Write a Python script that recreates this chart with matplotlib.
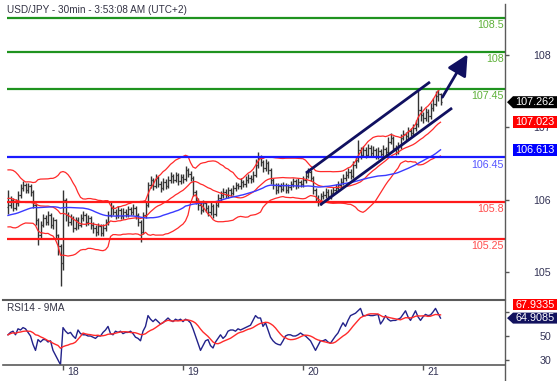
import numpy as np
import pandas as pd
import matplotlib
matplotlib.use("Agg")
import matplotlib.pyplot as plt
from matplotlib.patches import Polygon, FancyArrowPatch
from matplotlib.lines import Line2D

plt.rcParams['font.family'] = ['Liberation Sans', 'DejaVu Sans']

title = "USD/JPY - 30min - 3:53:08 AM (UTC+2)"
rsi_title = "RSI14 - 9MA"
first_bar_day = 17 + 13 / 24.0      # 17th, 13:00
bar_step = 1 / 48.0                 # 30 minutes

# closes before the visible window (only used for the indicators)
pre_close = [105.32, 105.30, 105.37, 105.34, 105.28, 105.25, 105.30, 105.36, 105.33, 105.39,
             105.42, 105.38, 105.35, 105.40, 105.44, 105.41, 105.47, 105.43, 105.39, 105.45,
             105.50, 105.47, 105.52, 105.49, 105.55, 105.52, 105.58, 105.62, 105.60, 105.66,
             105.80, 105.92, 106.05, 106.15, 106.22, 106.18, 106.10, 106.02, 105.95, 105.88,
             105.80, 105.72, 105.65, 105.60, 105.55, 105.58, 105.62, 105.68, 105.72]

close = [105.75, 105.82, 105.71, 105.78, 105.90, 106.00, 106.04, 105.97, 106.03, 105.94,
         105.75, 105.53, 105.31, 105.46, 105.56, 105.50, 105.60, 105.46, 105.53, 105.31,
         105.15, 104.90, 105.82, 105.60, 105.50, 105.56, 105.41, 105.53, 105.46, 105.56,
         105.60, 105.50, 105.56, 105.46, 105.41, 105.35, 105.44, 105.34, 105.41, 105.50,
         105.60, 105.71, 105.65, 105.60, 105.68, 105.59, 105.65, 105.62, 105.69, 105.65,
         105.71, 105.60, 105.50, 105.35, 105.60, 105.75, 106.04, 106.12, 106.03, 106.15,
         106.06, 106.00, 106.09, 106.03, 106.12, 106.18, 106.12, 106.19, 106.10, 106.16,
         106.13, 106.26, 106.21, 106.15, 105.94, 105.82, 105.75, 105.68, 105.78, 105.71,
         105.65, 105.74, 105.62, 105.75, 105.85, 105.90, 105.94, 105.90, 105.97, 105.93,
         106.00, 106.04, 106.03, 106.09, 106.06, 106.12, 106.15, 106.13, 106.19, 106.34,
         106.44, 106.38, 106.29, 106.37, 106.26, 106.12, 106.04, 105.97, 106.03, 105.99,
         106.04, 105.97, 106.01, 106.06, 106.10, 106.04, 106.09, 106.06, 106.12, 106.18,
         106.24, 106.15, 105.97, 105.85, 105.79, 105.88, 105.90, 105.94, 105.88, 105.93,
         105.97, 106.00, 106.04, 106.09, 106.15, 106.19, 106.24, 106.18, 106.34, 106.41,
         106.56, 106.49, 106.56, 106.49, 106.59, 106.51, 106.56, 106.47, 106.54, 106.50,
         106.57, 106.53, 106.68, 106.74, 106.59, 106.53, 106.62, 106.74, 106.79, 106.76,
         106.84, 106.81, 106.88, 106.94, 107.15, 107.07, 107.03, 107.12, 107.06, 107.18,
         107.24, 107.35, 107.38, 107.262]

high = [105.97, 105.88, 105.86, 105.84, 105.95, 106.06, 106.10, 106.08, 106.07, 106.06,
        105.97, 105.78, 105.56, 105.52, 105.62, 105.61, 105.66, 105.63, 105.58, 105.55,
        105.33, 105.18, 105.97, 105.85, 105.64, 105.62, 105.59, 105.58, 105.57, 105.62,
        105.66, 105.63, 105.61, 105.59, 105.50, 105.45, 105.49, 105.47, 105.47, 105.55,
        105.66, 105.79, 105.75, 105.69, 105.73, 105.71, 105.70, 105.69, 105.74, 105.72,
        105.77, 105.74, 105.63, 105.53, 105.64, 105.81, 106.09, 106.18, 106.15, 106.21,
        106.18, 106.10, 106.14, 106.13, 106.17, 106.23, 106.21, 106.24, 106.22, 106.21,
        106.20, 106.32, 106.30, 106.25, 106.18, 105.97, 105.86, 105.79, 105.83, 105.81,
        105.75, 105.79, 105.77, 105.80, 105.91, 105.96, 106.00, 105.98, 106.02, 106.00,
        106.05, 106.09, 106.08, 106.14, 106.12, 106.17, 106.20, 106.19, 106.25, 106.42,
        106.53, 106.49, 106.41, 106.43, 106.40, 106.29, 106.15, 106.08, 106.08, 106.07,
        106.09, 106.07, 106.06, 106.11, 106.15, 106.13, 106.14, 106.12, 106.17, 106.24,
        106.30, 106.27, 106.18, 106.00, 105.89, 105.93, 105.96, 106.00, 105.98, 105.98,
        106.02, 106.06, 106.10, 106.15, 106.21, 106.25, 106.30, 106.28, 106.40, 106.47,
        106.71, 106.60, 106.62, 106.60, 106.65, 106.63, 106.62, 106.59, 106.60, 106.58,
        106.63, 106.60, 106.75, 106.81, 106.77, 106.63, 106.68, 106.80, 106.85, 106.83,
        106.90, 106.88, 106.94, 107.00, 107.45, 107.20, 107.12, 107.18, 107.16, 107.25,
        107.32, 107.42, 107.47, 107.40]

low = [105.62, 105.70, 105.66, 105.67, 105.74, 105.86, 105.95, 105.92, 105.93, 105.88,
       105.70, 105.46, 105.16, 105.27, 105.42, 105.45, 105.46, 105.41, 105.40, 105.25,
       105.02, 104.56, 104.80, 105.52, 105.44, 105.45, 105.36, 105.38, 105.40, 105.42,
       105.51, 105.44, 105.46, 105.40, 105.34, 105.30, 105.31, 105.29, 105.30, 105.37,
       105.46, 105.57, 105.60, 105.55, 105.56, 105.54, 105.55, 105.57, 105.58, 105.60,
       105.61, 105.55, 105.44, 105.20, 105.32, 105.56, 105.72, 106.00, 105.97, 106.00,
       106.01, 105.94, 105.97, 105.98, 106.00, 106.08, 106.07, 106.09, 106.05, 106.06,
       106.08, 106.10, 106.16, 106.10, 105.88, 105.76, 105.68, 105.62, 105.64, 105.65,
       105.59, 105.61, 105.56, 105.59, 105.72, 105.81, 105.86, 105.85, 105.86, 105.88,
       105.89, 105.96, 105.98, 105.99, 106.01, 106.02, 106.08, 106.08, 106.09, 106.16,
       106.30, 106.32, 106.23, 106.25, 106.20, 106.06, 105.98, 105.91, 105.93, 105.94,
       105.95, 105.92, 105.93, 105.97, 106.02, 105.99, 106.00, 106.01, 106.02, 106.08,
       106.14, 106.10, 105.91, 105.79, 105.73, 105.75, 105.84, 105.86, 105.83, 105.84,
       105.89, 105.93, 105.96, 106.00, 106.05, 106.11, 106.15, 106.13, 106.15, 106.30,
       106.38, 106.43, 106.45, 106.44, 106.46, 106.46, 106.47, 106.42, 106.43, 106.45,
       106.46, 106.48, 106.50, 106.64, 106.54, 106.48, 106.50, 106.58, 106.70, 106.71,
       106.72, 106.76, 106.77, 106.84, 106.90, 106.98, 106.95, 106.98, 106.97, 107.02,
       107.13, 107.20, 107.28, 107.22]

rsi = [51, 53, 54, 51, 56, 55, 57, 56, 53, 50,
       43, 38, 47, 45, 47, 47, 45, 46, 38, 34,
       30, 26, 57, 54, 52, 53, 50, 48, 55, 52,
       51, 51, 50, 50, 49, 48, 50, 50, 53, 55,
       58, 52, 51, 54, 53, 54, 52, 53, 53, 54,
       52, 49, 48, 46, 54, 58, 67, 64, 62, 64,
       62, 60, 61, 63, 65, 63, 62, 64, 63, 64,
       62, 64, 63, 61, 56, 50, 44, 38, 42, 46,
       47, 42, 40, 45, 48, 51, 48, 50, 54, 55,
       55, 54, 56, 55, 56, 57, 58, 59, 63, 67,
       65, 65, 58, 61, 55, 49, 46, 44, 43, 42.5,
       46, 50, 51, 51, 50, 50, 51, 52.5, 51, 50,
       48, 46, 42, 38, 42, 46, 46, 47, 45, 44,
       47, 50, 52.5, 57, 61, 58, 63, 67, 68, 69,
       71, 73, 67, 67, 67.5, 67, 67, 67.5, 68, 60,
       63, 67, 64, 62.5, 63, 63, 64, 65, 68, 71,
       66, 63, 67, 71, 66, 63, 66, 68, 67, 67.5,
       70, 73, 69, 64.9085]

green_levels = [108.5, 108.0, 107.45]
green_labels = ["108.5", "108", "107.45"]
blue_levels = [106.45]
blue_labels = ["106.45"]
red_levels = [105.8, 105.25]
red_labels = ["105.8", "105.25"]

channel_upper_x = [20.025, 21.058]
channel_upper_y = [106.221, 107.559]
channel_lower_x = [20.142, 21.242]
channel_lower_y = [105.75, 107.176]
arrow_start = (21.15, 107.30)
arrow_end = (21.383, 108.0)

price_ticks = [105, 106, 107, 108]
rsi_ticks = [30, 50, 70]
rsi_tick_labels = ["30", "50", ""]      # the 70 label sits behind the value boxes
day_ticks = [18, 19, 20, 21]
day_labels = ["18", "19", "20", "21"]

last_price_text = "107.262"
bb_mid_text = "107.023"
ma_text = "106.613"
rsi_ma_text = "67.9335"
rsi_text = "64.9085"

# ---------------- computations ----------------
n = len(close)
x = first_bar_day + np.arange(n) * bar_step
all_close = pd.Series(pre_close + close)
k = len(pre_close)
bb_mid = all_close.rolling(20).mean().values[k:]
bb_sd = all_close.rolling(20).std(ddof=0).values[k:]
bb_up = bb_mid + 2 * bb_sd
bb_lo = bb_mid - 2 * bb_sd
ma50 = all_close.rolling(50).mean().values[k:]
opens = np.array([pre_close[-1]] + close[:-1])
closes = np.array(close)
rsi_ma = pd.Series(rsi).rolling(9, min_periods=1).mean().values

# ---------------- figure ----------------
W, H = 557, 381
fig = plt.figure(figsize=(W / 100, H / 100), dpi=100)


def fx(px):
    return px / W


def fy(py):
    return 1 - py / H


ax = fig.add_axes([fx(7), fy(300), fx(505) - fx(7), fy(3) - fy(300)])
axr = fig.add_axes([fx(7), fy(365), fx(505) - fx(7), fy(300) - fy(365)])

xlim = (17.5333, 21.6833)
for a in (ax, axr):
    a.set_xlim(*xlim)
    for s in a.spines.values():
        s.set_visible(False)
    a.set_facecolor('white')
ax.set_ylim(104.3529, 108.7206)
axr.set_ylim(25.83, 80)

# OHLC bars
bar_col = '#333333'
w = bar_step * 0.42
ax.vlines(x, low, high, color=bar_col, lw=1.0, zorder=2)
ax.hlines(opens, x - w, x, color=bar_col, lw=0.9, zorder=2)
ax.hlines(closes, x, x + w, color=bar_col, lw=0.9, zorder=2)

# indicators
bb_col = '#ff2a2a'
ax.plot(x, bb_up, color=bb_col, lw=0.9, zorder=3)
ax.plot(x, bb_mid, color=bb_col, lw=0.9, zorder=3)
ax.plot(x, bb_lo, color=bb_col, lw=0.9, zorder=3)
ax.plot(x, ma50, color='#3a3aff', lw=1.0, zorder=3)

# horizontal levels
for lv, lb in zip(green_levels, green_labels):
    ax.axhline(lv, color='#1f931f', lw=1.6, zorder=4)
    ax.annotate(lb, xy=(1, lv), xycoords=ax.get_yaxis_transform(), xytext=(-1, -7),
                textcoords='offset pixels', ha='right', va='center', fontsize=7.7, color='#5fb13a')
for lv, lb in zip(blue_levels, blue_labels):
    ax.axhline(lv, color='#1a1aff', lw=1.6, zorder=4)
    ax.annotate(lb, xy=(1, lv), xycoords=ax.get_yaxis_transform(), xytext=(-1, -8),
                textcoords='offset pixels', ha='right', va='center', fontsize=7.7, color='#5555ff')
for lv, lb in zip(red_levels, red_labels):
    ax.axhline(lv, color='#ff1a1a', lw=1.6, zorder=4)
    ax.annotate(lb, xy=(1, lv), xycoords=ax.get_yaxis_transform(), xytext=(-1, -7),
                textcoords='offset pixels', ha='right', va='center', fontsize=7.7, color='#ff4d4d')

# channel and arrow
navy = '#101060'
ax.plot(channel_upper_x, channel_upper_y, color=navy, lw=2.0, zorder=5, solid_capstyle='butt')
ax.plot(channel_lower_x, channel_lower_y, color=navy, lw=2.0, zorder=5, solid_capstyle='butt')
ax.add_patch(FancyArrowPatch(arrow_start, arrow_end, arrowstyle='-|>,head_length=0.9,head_width=0.45',
                             mutation_scale=14, color=navy, lw=2.0, zorder=6))

ax.set_yticks([])
ax.set_xticks([])

# right price axis labels
axt = ax.twinx()
axt.set_ylim(104.613, 108.719)
for s in axt.spines.values():
    s.set_visible(False)
axt.set_yticks(price_ticks, [str(t) for t in price_ticks])
axt.tick_params(axis='y', direction='out', length=2.9, width=1, colors='#555555',
                labelcolor='#333355', labelsize=7.7, pad=30.2)
for t in axt.get_yticklabels():
    t.set_horizontalalignment('right')

# RSI panel
axr.plot(x, rsi, color='#22228a', lw=1.0, zorder=3)
axr.plot(x, rsi_ma, color='#ff2a2a', lw=1.0, zorder=3)
axr.yaxis.tick_right()
axr.set_yticks(rsi_ticks, rsi_tick_labels)
axr.tick_params(axis='y', direction='out', length=2.9, width=1, colors='#555555',
                labelcolor='#333355', labelsize=7.7, pad=30.2)
for t in axr.get_yticklabels():
    t.set_horizontalalignment('right')
axr.set_xticks(day_ticks, [''] * len(day_ticks))
axr.tick_params(axis='x', direction='out', length=3.6, width=1, colors='#555555')
for d, lb in zip(day_ticks, day_labels):
    axr.annotate(lb, xy=(d, 0), xycoords=axr.get_xaxis_transform(), xytext=(4, -2),
                 textcoords='offset pixels', ha='left', va='top', fontsize=7.5, color='#333355',
                 annotation_clip=False)

# frame lines
lc = '#5a5a5a'
fig.add_artist(Line2D([fx(3), fx(505)], [fy(300), fy(300)], transform=fig.transFigure, color=lc, lw=1.5))
fig.add_artist(Line2D([fx(3), fx(505)], [fy(365), fy(365)], transform=fig.transFigure, color=lc, lw=1.2))
fig.add_artist(Line2D([fx(505), fx(505)], [fy(4), fy(381)], transform=fig.transFigure, color=lc, lw=1.0))

# titles
fig.text(fx(7), fy(10), title, ha='left', va='center', fontsize=7.2, color='#333344')
fig.text(fx(7), fy(308), rsi_title, ha='left', va='center', fontsize=7.2, color='#333344')


def value_box(axis, value, text, color, arrow, shift_px=0.0, h=12):
    _, yd = axis.transData.transform((axis.get_xlim()[0], value))
    yc = yd + shift_px
    x0, x1 = 513, 557
    if arrow:
        pts = [(507, yc), (x0, yc + h / 2), (x1, yc + h / 2), (x1, yc - h / 2), (x0, yc - h / 2)]
    else:
        pts = [(x0, yc + h / 2), (x1, yc + h / 2), (x1, yc - h / 2), (x0, yc - h / 2)]
    pts = [(px / W, py / H) for px, py in pts]
    fig.add_artist(Polygon(pts, closed=True, transform=fig.transFigure, facecolor=color,
                           edgecolor='none', zorder=10))
    fig.text(535 / W, yc / H, text, ha='center', va='center', fontsize=7.8, color='white', zorder=11)
    return yc


value_box(ax, close[-1], last_price_text, '#000000', True)
value_box(ax, bb_mid[-1], bb_mid_text, '#ff0000', False)
value_box(ax, ma50[-1], ma_text, '#0000ff', False)
value_box(axr, rsi[-1], rsi_text, '#12125e', True, h=11)
value_box(axr, rsi[-1], rsi_ma_text, '#ff0000', False, shift_px=13.5, h=11)

fig.savefig("out.png", dpi=100)
